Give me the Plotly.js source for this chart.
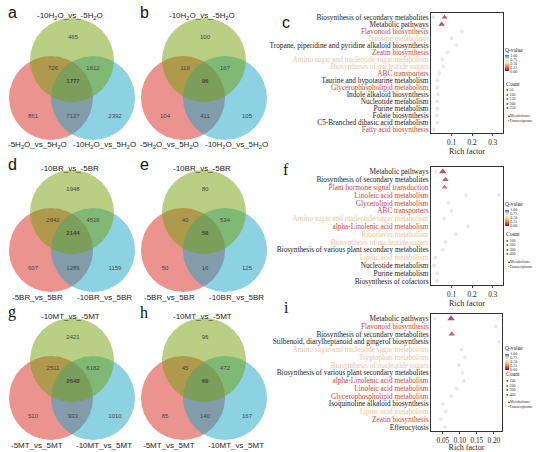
<!DOCTYPE html>
<html>
<head>
<meta charset="utf-8">
<script src="https://cdn.plot.ly/plotly-3.0.1.min.js"></script>
<style>html,body{margin:0;padding:0;background:#fff}</style>
</head>
<body>
<div id="chart" style="width:550px;height:452px"></div>
<script>
// Venn region counts, order:
// [top only, top&left, top&right, all three, left only, left&right, right only]
const vennA = [465, 726, 1612, 1777, 861, 7127, 2392];
const vennB = [100, 119, 167, 96, 104, 411, 105];
const vennD = [1948, 2842, 4516, 2144, 607, 1289, 1159];
const vennE = [80, 40, 534, 58, 50, 16, 125];
const vennG = [2421, 2511, 6182, 2648, 510, 933, 1010];
const vennH = [96, 45, 472, 69, 85, 140, 167];

// set names [top, left, right]
const setsH2O = ['-10H<sub>2</sub>O_vs_-5H<sub>2</sub>O', '-5H<sub>2</sub>O_vs_5H<sub>2</sub>O', '-10H<sub>2</sub>O_vs_5H<sub>2</sub>O'];
const setsBR = ['-10BR_vs_-5BR', '-5BR_vs_5BR', '-10BR_vs_5BR'];
const setsMT = ['-10MT_vs_-5MT', '-5MT_vs_5MT', '-10MT_vs_5MT'];

// enrichment panels: pathway names (top to bottom) and label colour group
// k = black, r = red, p = peach
const pathC = ['Biosynthesis of secondary metabolites', 'Metabolic pathways', 'Flavonoid biosynthesis',
  'Tyrosine metabolism', 'Tropane, piperidine and pyridine alkaloid biosynthesis', 'Zeatin biosynthesis',
  'Amino sugar and nucleotide sugar metabolism', 'Biosynthesis of nucleotide sugars', 'ABC transporters',
  'Taurine and hypotaurine metabolism', 'Glycerophospholipid metabolism', 'Indole alkaloid biosynthesis',
  'Nucleotide metabolism', 'Purine metabolism', 'Folate biosynthesis', 'C5-Branched dibasic acid metabolism',
  'Fatty acid biosynthesis'];
const groupC = ['k','k','r','p','k','r','p','p','r','k','r','k','k','k','k','k','r'];
// points: row index, rich factor, q-value, count, omics (T/M)
const rowC   = [0, 1, 0, 2, 3, 4, 5, 6, 7, 8, 9, 10, 11, 12, 13, 14, 15, 16];
const richC  = [0.066, 0.052, 0.012, 0.15, 0.10, 0.125, 0.08, 0.055, 0.06, 0.04, 0.03, 0.03, 0.035, 0.03, 0.03, 0.028, 0.03, 0.012];
const qC     = [0.02, 0.0, 0.7, 0.75, 0.7, 0.72, 0.7, 0.74, 0.72, 0.75, 0.7, 0.72, 0.75, 0.7, 0.72, 0.74, 0.7, 0.75];
const countC = [180, 250, 5, 6, 5, 6, 5, 8, 8, 10, 5, 8, 5, 12, 15, 6, 5, 5];
const omicsC = ['T','T','M','M','M','M','M','M','M','M','M','M','M','M','M','M','M','M'];

const pathF = ['Metabolic pathways', 'Biosynthesis of secondary metabolites', 'Plant hormone signal transduction',
  'Linoleic acid metabolism', 'Glycerolipid metabolism', 'ABC transporters',
  'Amino sugar and nucleotide sugar metabolism', 'alpha-Linolenic acid metabolism', 'Riboflavin metabolism',
  'Biosynthesis of nucleotide sugars', 'Biosynthesis of various plant secondary metabolites',
  'Lipoic acid metabolism', 'Nucleotide metabolism', 'Purine metabolism', 'Biosynthesis of cofactors'];
const groupF = ['k','k','r','r','r','r','p','r','p','p','k','p','k','k','k'];
const rowF   = [0, 1, 2, 0, 3, 3, 4, 5, 6, 7, 8, 9, 10, 11, 12, 13, 14];
const richF  = [0.057, 0.07, 0.066, 0.022, 0.17, 0.33, 0.085, 0.10, 0.064, 0.18, 0.12, 0.07, 0.057, 0.022, 0.015, 0.03, 0.03];
const qF     = [0.0, 0.05, 0.1, 0.72, 0.7, 0.75, 0.72, 0.7, 0.74, 0.72, 0.75, 0.7, 0.72, 0.7, 0.74, 0.72, 0.7];
const countF = [400, 250, 150, 5, 6, 5, 6, 5, 8, 5, 5, 8, 10, 5, 12, 15, 10];
const omicsF = ['T','T','T','M','M','M','M','M','M','M','M','M','M','M','M','M','M'];

const pathI = ['Metabolic pathways', 'Flavonoid biosynthesis', 'Biosynthesis of secondary metabolites',
  'Stilbenoid, diarylheptanoid and gingerol biosynthesis', 'Amino sugar and nucleotide sugar metabolism',
  'Tryptophan metabolism', 'Biosynthesis of nucleotide sugars', 'Biosynthesis of various plant secondary metabolites',
  'alpha-Linolenic acid metabolism', 'Linoleic acid metabolism', 'Glycerophospholipid metabolism',
  'Isoquinoline alkaloid biosynthesis', 'Lipoic acid metabolism', 'Zeatin biosynthesis', 'Efferocytosis'];
const groupI = ['k','r','k','k','p','p','p','k','r','r','r','k','p','r','k'];
const rowI   = [0, 2, 0, 1, 3, 4, 5, 6, 7, 8, 9, 10, 11, 12, 13, 14];
const richI  = [0.074, 0.076, 0.026, 0.205, 0.215, 0.105, 0.115, 0.097, 0.108, 0.112, 0.09, 0.074, 0.05, 0.058, 0.044, 0.056];
const qI     = [0.0, 0.05, 0.72, 0.7, 0.75, 0.72, 0.7, 0.74, 0.72, 0.75, 0.7, 0.72, 0.7, 0.74, 0.72, 0.7];
const countI = [400, 250, 5, 6, 5, 6, 5, 8, 5, 5, 8, 10, 5, 12, 6, 8];
const omicsI = ['T','T','M','M','M','M','M','M','M','M','M','M','M','M','M','M'];

const W = 550, H = 452;
const SANS = 'Liberation Sans, Arial, sans-serif';
const SERIF = 'Liberation Serif, Times New Roman, serif';
const labelColor = {k: '#222', r: '#c9453c', p: '#f4c49e'};

// venn geometry in px, relative to the centre of the top circle
const R = 42, DX = 21, DY = 38;
const regionOff = [[1,-23], [-19,8], [21,8], [1,21], [-39,56], [1,56], [43,56]];
const circleFill = ['rgba(215,40,30,0.5)', 'rgba(25,165,200,0.5)', 'rgba(115,160,10,0.5)']; // left, right, top

const vennPanels = [
  {counts: vennA, sets: setsH2O, cx: 72, cy: 60, lab: 'a', font: SANS},
  {counts: vennB, sets: setsH2O, cx: 204, cy: 60, lab: 'b', font: SANS},
  {counts: vennD, sets: setsBR, cx: 72, cy: 212, lab: 'd', font: SANS},
  {counts: vennE, sets: setsBR, cx: 204, cy: 212, lab: 'e', font: SANS},
  {counts: vennG, sets: setsMT, cx: 72, cy: 360, lab: 'g', font: SERIF},
  {counts: vennH, sets: setsMT, cx: 204, cy: 360, lab: 'h', font: SERIF}
];

const traces = [];
const shapes = [];
const annotations = [];

vennPanels.forEach(p => {
  const centres = [[p.cx - DX, p.cy + DY], [p.cx + DX, p.cy + DY], [p.cx, p.cy]];
  centres.forEach((c, k) => {
    shapes.push({type: 'circle', xref: 'x', yref: 'y', layer: 'below',
      x0: c[0] - R, x1: c[0] + R, y0: c[1] - R, y1: c[1] + R,
      fillcolor: circleFill[k], line: {width: 0}});
  });
  traces.push({
    type: 'scatter', mode: 'text', xaxis: 'x', yaxis: 'y', hoverinfo: 'skip', showlegend: false,
    x: regionOff.map(o => p.cx + o[0]),
    y: regionOff.map(o => p.cy + o[1]),
    text: p.counts.map((v, i) => i === 3 ? '<b>' + v + '</b>' : String(v)),
    textfont: {family: SANS, size: 6, color: '#444'}
  });
  const lf = {family: SANS, size: 8, color: '#222'};
  annotations.push(
    {xref: 'x', yref: 'y', x: p.cx - 2, y: p.cy - 44, text: p.sets[0], showarrow: false, font: lf},
    {xref: 'x', yref: 'y', x: p.cx - 35, y: p.cy + 85, text: p.sets[1], showarrow: false, font: lf},
    {xref: 'x', yref: 'y', x: p.cx + 32, y: p.cy + 85, text: p.sets[2], showarrow: false, font: lf},
    {xref: 'x', yref: 'y', x: p.cx - 60, y: p.cy - 48, text: p.lab, showarrow: false,
      font: {family: p.font, size: 16, color: '#111'}}
  );
});

const dotPanels = [
  {names: pathC, groups: groupC, row: rowC, rich: richC, q: qC, count: countC, omics: omicsC,
    px: [431, 503], py: [13, 133], xr: [0, 0.35], tv: [0.1, 0.2, 0.3], tt: ['0.1', '0.2', '0.3'],
    cb: 58, sizes: [50, 100, 150, 200, 250], lab: 'c', labFont: SANS, labY: 12},
  {names: pathF, groups: groupF, row: rowF, rich: richF, q: qF, count: countF, omics: omicsF,
    px: [431, 503], py: [167, 285], xr: [0, 0.35], tv: [0.1, 0.2, 0.3], tt: ['0.1', '0.2', '0.3'],
    cb: 212, sizes: [100, 200, 300, 400], lab: 'f', labFont: SERIF, labY: 169},
  {names: pathI, groups: groupI, row: rowI, rich: richI, q: qI, count: countI, omics: omicsI,
    px: [431, 502], py: [314, 431], xr: [0.015, 0.224], tv: [0.05, 0.10, 0.15, 0.20], tt: ['0.05', '0.10', '0.15', '0.20'],
    cb: 356, sizes: [100, 200, 300, 400], lab: 'i', labFont: SERIF, labY: 318}
];

const qScale = [[0, '#a50026'], [0.25, '#f46d43'], [0.5, '#fee090'], [0.75, '#e0f3f8'], [1, '#4575b4']];
const sizeOf = c => 2.2 + Math.sqrt(c) * 0.22;

const layout = {
  width: W, height: H,
  margin: {l: 0, r: 0, t: 0, b: 0},
  paper_bgcolor: '#fff', plot_bgcolor: 'rgba(0,0,0,0)',
  showlegend: false,
  xaxis: {domain: [0, 1], range: [0, W], visible: false, fixedrange: true},
  yaxis: {domain: [0, 1], range: [H, 0], visible: false, fixedrange: true},
  shapes: shapes,
  annotations: annotations
};

dotPanels.forEach((d, k) => {
  const n = k + 2;
  const xa = 'x' + n, ya = 'y' + n;
  const ca = 'coloraxis' + (k === 0 ? '' : k + 1);
  const font = {family: SERIF, size: 7.3, color: '#222'};
  layout['xaxis' + n] = {
    domain: [d.px[0] / W, d.px[1] / W], anchor: ya, range: d.xr,
    showline: true, mirror: true, linecolor: '#333', linewidth: 1,
    ticks: 'outside', ticklen: 2, tickcolor: '#333', tickvals: d.tv, ticktext: d.tt, tickfont: font,
    showgrid: false, zeroline: false, automargin: false, fixedrange: true,
    title: {text: 'Rich factor', font: {family: SERIF, size: 8, color: '#222'}, standoff: 1}
  };
  layout['yaxis' + n] = {
    domain: [1 - d.py[1] / H, 1 - d.py[0] / H], anchor: xa, type: 'category',
    categoryorder: 'array', categoryarray: d.names,
    range: [d.names.length - 0.5, -0.6],
    tickvals: d.names,
    ticktext: d.names.map((s, i) => '<span style="color:' + labelColor[d.groups[i]] + '">' + s + '</span>'),
    tickfont: {family: SERIF, size: 7.3, color: '#222'},
    showline: true, mirror: true, linecolor: '#333', linewidth: 1, ticks: '',
    showgrid: false, zeroline: false, automargin: false, fixedrange: true
  };
  layout[ca] = {
    cmin: 0, cmax: 1, colorscale: qScale,
    colorbar: {x: 505 / W, xanchor: 'left', y: 1 - d.cb / H, yanchor: 'middle',
      len: 27, lenmode: 'pixels', thickness: 4, xpad: 0, ypad: 0, outlinewidth: 0,
      tickvals: [0, 0.25, 0.5, 0.75, 1], ticktext: ['0.00', '0.25', '0.50', '0.75', '1.00'],
      tickfont: {family: SERIF, size: 4, color: '#333'}, ticks: '',
      title: {text: 'Q-value', side: 'top', font: {family: SERIF, size: 5.5, color: '#222'}}}
  };
  ['M', 'T'].forEach(om => {
    const idx = d.omics.map((o, i) => o === om ? i : -1).filter(i => i >= 0);
    traces.push({
      type: 'scatter', mode: 'markers', xaxis: xa, yaxis: ya, hoverinfo: 'skip', showlegend: false,
      x: idx.map(i => d.rich[i]),
      y: idx.map(i => d.names[d.row[i]]),
      marker: {
        symbol: om === 'T' ? 'triangle-up' : 'circle',
        size: idx.map(i => sizeOf(d.count[i])),
        color: idx.map(i => d.q[i]), coloraxis: ca,
        line: {width: om === 'M' ? 0.4 : 0, color: '#aaa'}
      }
    });
  });
  // count + omics legend text
  const lf = {family: SERIF, size: 4, color: '#333'};
  const cy = d.cb + 22;
  annotations.push({xref: 'paper', yref: 'paper', x: 505 / W, y: 1 - cy / H, xanchor: 'left',
    text: 'Count', showarrow: false, font: {family: SERIF, size: 5.5, color: '#222'}, borderpad: 0});
  d.sizes.forEach((s, j) => {
    annotations.push({xref: 'paper', yref: 'paper', x: 505 / W, y: 1 - (cy + 6 + j * 4.6) / H, xanchor: 'left',
      text: '● ' + s, showarrow: false, font: lf, borderpad: 0});
  });
  const oy = cy + 6 + d.sizes.length * 4.6 + 3;
  annotations.push(
    {xref: 'paper', yref: 'paper', x: 507 / W, y: 1 - oy / H, xanchor: 'left', text: '▴Metabolome', showarrow: false, font: lf, borderpad: 0},
    {xref: 'paper', yref: 'paper', x: 507 / W, y: 1 - (oy + 4.6) / H, xanchor: 'left', text: '•Transcriptome', showarrow: false, font: lf, borderpad: 0},
    {xref: 'paper', yref: 'paper', x: 286 / W, y: 1 - d.labY / H, text: d.lab, showarrow: false,
      font: {family: d.labFont, size: 16, color: '#111'}}
  );
});

Plotly.newPlot('chart', traces, layout, {staticPlot: true, displayModeBar: false});
</script>
</body>
</html>
